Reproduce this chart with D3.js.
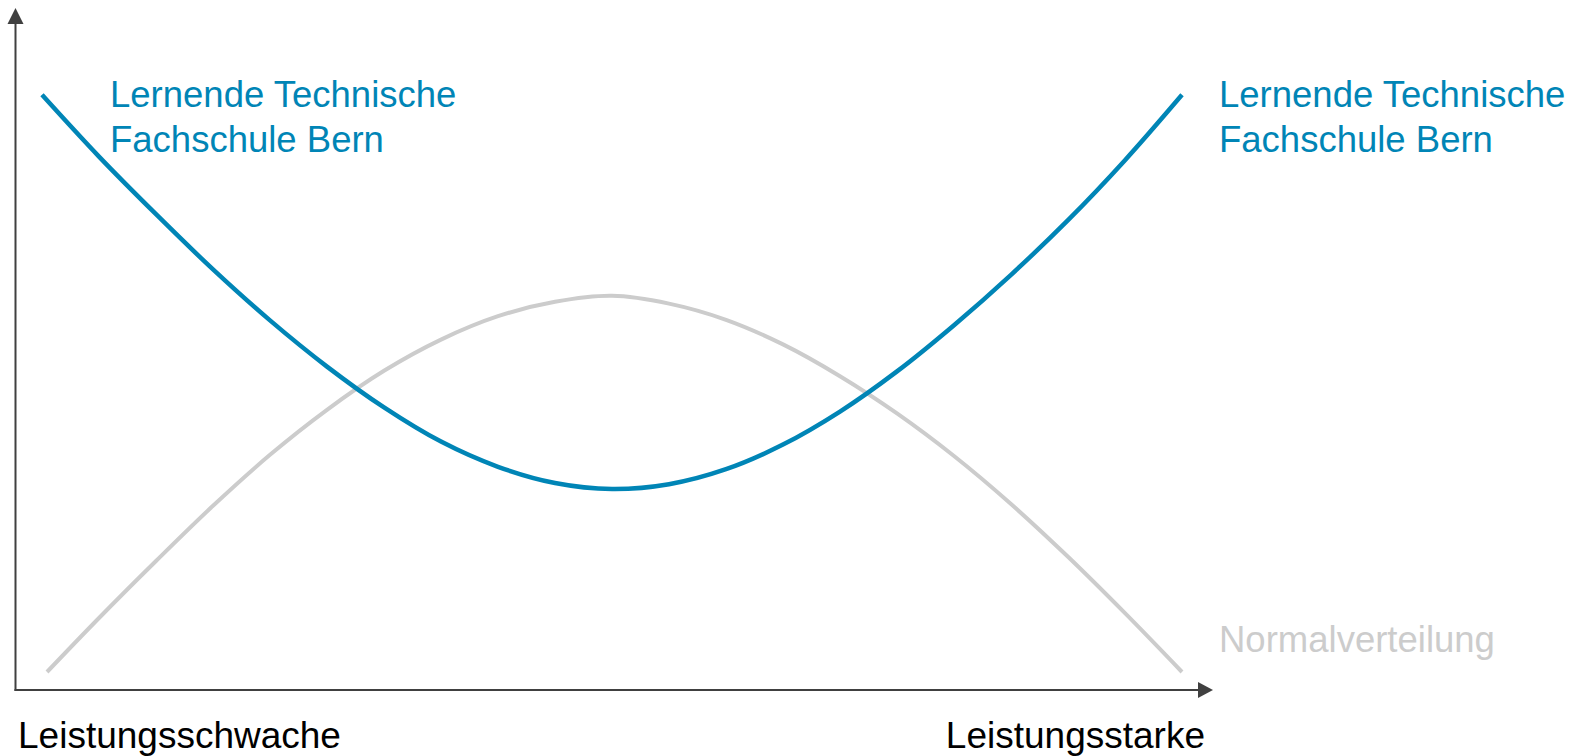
<!DOCTYPE html>
<html>
<head>
<meta charset="utf-8">
<script src="https://cdn.jsdelivr.net/npm/d3@7"></script>
<style>
  html, body { margin: 0; padding: 0; background: #fff; }
  svg { display: block; }
  text { font-family: "Liberation Sans", Arial, sans-serif; }
</style>
</head>
<body>
<svg id="chart" width="1581" height="756"></svg>
<script>
// Data (performance 0..100 on x, relative share 0..100 on y)
const techX = [0, 5, 10, 15, 20, 25, 30, 35, 40, 45, 50, 55, 60, 65, 70, 75, 80, 85, 90, 95, 100];
const techY = [99.2, 88.9, 79.3, 70.1, 61.6, 53.9, 47.1, 41.4, 37.2, 34.5, 33.5, 34.3, 36.8, 40.9, 46.4, 53.1, 60.8, 69.2, 78.3, 88.3, 99.2];
const normX = [0.44, 5, 10, 15, 20, 25, 30, 35, 40, 45, 50, 55, 60, 65, 70, 75, 80, 85, 90, 95, 100];
const normY = [3, 12, 21.5, 30.7, 39.2, 46.7, 53.2, 58.4, 62.3, 64.7, 65.7, 64.4, 61.7, 57.6, 52.3, 46.1, 39, 31, 22.2, 12.8, 3];
const seriesLabels = ["Lernende Technische", "Fachschule Bern"];
const normLabel = "Normalverteilung";
const axisLabels = ["Leistungsschwache", "Leistungsstarke"];

const svg = d3.select("#chart");
const x = d3.scaleLinear().domain([0, 100]).range([42, 1182]);
const y = d3.scaleLinear().domain([0, 100]).range([690, 90]);

const axisColor = "#404040";
const blue = "#0085b6";
const grey = "#cccccc";

// Axes
const axisX0 = 15.5;
const axisY0 = y(0);
svg.append("line").attr("x1", axisX0).attr("x2", axisX0).attr("y1", 22).attr("y2", axisY0 + 1)
  .attr("stroke", axisColor).attr("stroke-width", 2);
svg.append("line").attr("x1", axisX0 - 1).attr("x2", 1200).attr("y1", axisY0).attr("y2", axisY0)
  .attr("stroke", axisColor).attr("stroke-width", 2);
svg.append("path").attr("d", `M${axisX0},8 L${axisX0 - 8},24 L${axisX0 + 8},24 Z`).attr("fill", axisColor);
svg.append("path").attr("d", `M1213,${axisY0} L1198,${axisY0 - 8} L1198,${axisY0 + 8} Z`).attr("fill", axisColor);

const line = d3.line().x(d => x(d[0])).y(d => y(d[1])).curve(d3.curveCatmullRom.alpha(0.5));

svg.append("path").datum(normX.map((v, i) => [v, normY[i]]))
  .attr("d", line).attr("fill", "none").attr("stroke", grey).attr("stroke-width", 4);
svg.append("path").datum(techX.map((v, i) => [v, techY[i]]))
  .attr("d", line).attr("fill", "none").attr("stroke", blue).attr("stroke-width", 4.5);

// Labels
[110, 1219].forEach(lx => {
  seriesLabels.forEach((t, i) => {
    svg.append("text").attr("x", lx).attr("y", 107 + i * 45)
      .attr("font-size", 36.5).attr("fill", blue).text(t);
  });
});
svg.append("text").attr("x", 1219).attr("y", 652).attr("font-size", 36.5).attr("fill", grey).text(normLabel);
svg.append("text").attr("x", 18).attr("y", 748).attr("font-size", 37).attr("fill", "#000").text(axisLabels[0]);
svg.append("text").attr("x", 1205).attr("y", 748).attr("font-size", 37).attr("fill", "#000")
  .attr("text-anchor", "end").text(axisLabels[1]);
</script>
</body>
</html>
